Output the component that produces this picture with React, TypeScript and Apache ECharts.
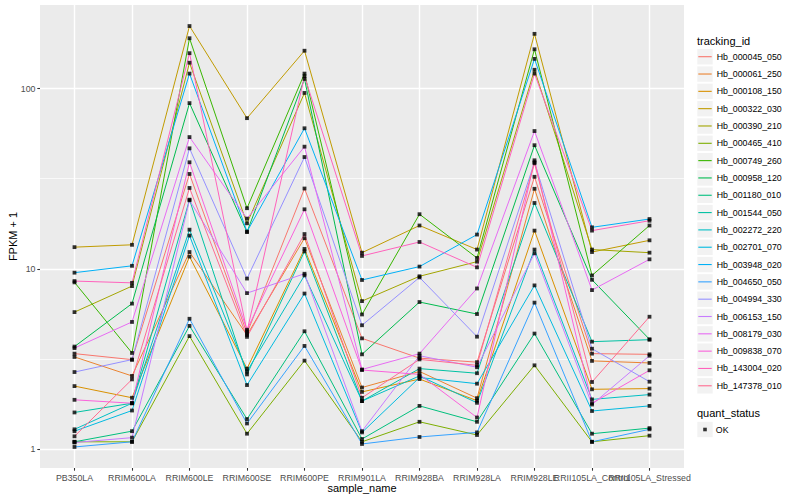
import React, { useEffect, useRef } from "react";
import * as echarts from "echarts";

const categories = [
  "PB350LA", "RRIM600LA", "RRIM600LE", "RRIM600SE", "RRIM600PE", "RRIM901LA",
  "RRIM928BA", "RRIM928LA", "RRIM928LE", "RRII105LA_Control", "RRII105LA_Stressed",
];

const trackingIds = [
  "Hb_000045_050", "Hb_000061_250", "Hb_000108_150", "Hb_000322_030", "Hb_000390_210",
  "Hb_000465_410", "Hb_000749_260", "Hb_000958_120", "Hb_001180_010", "Hb_001544_050",
  "Hb_002272_220", "Hb_002701_070", "Hb_003948_020", "Hb_004650_050", "Hb_004994_330",
  "Hb_006153_150", "Hb_008179_030", "Hb_009838_070", "Hb_143004_020", "Hb_147378_010",
];

const palette = [
  "#F8766D", "#EA8331", "#D89000", "#C09B00", "#A3A500", "#7CAE00", "#39B600", "#00BB4E",
  "#00BF7D", "#00C1A3", "#00BFC4", "#00BAE0", "#00B0F6", "#35A2FF", "#9590FF", "#C77CFF",
  "#E76BF3", "#FA62DB", "#FF62BC", "#FF6C91",
];

// FPKM + 1 per sample, in category order
const hb000045_050 = [3.39, 3.14, 33.6, 4.4, 27.9, 4.12, 3.2, 3.04, 32.4, 3.39, 3.36];
const hb000061_250 = [3.25, 2.55, 12.4, 4.3, 14.8, 2.2, 2.7, 1.92, 27.8, 3.09, 3.01];
const hb000108_150 = [2.24, 1.93, 11.7, 2.8, 12.9, 2.08, 2.45, 1.86, 16.3, 2.15, 2.17];
const hb000322_030 = [13.2, 13.6, 222, 68.5, 162, 12.3, 17.4, 12.8, 201, 12.4, 14.4];
const hb000390_210 = [5.76, 8.03, 139, 17.9, 94.5, 6.63, 9.1, 10.97, 127, 12.8, 12.3];
const hb000465_410 = [1.1, 1.1, 4.24, 1.22, 3.1, 1.1, 1.42, 1.2, 2.92, 1.1, 1.19];
const hb000749_260 = [8.42, 3.42, 190, 21.7, 121, 5.59, 20.1, 11.5, 165, 9.2, 17.4];
const hb000958_120 = [3.71, 6.42, 83, 16.0, 113, 3.36, 6.55, 5.62, 48.5, 8.7, 4.07];
const hb001180_010 = [1.1, 1.26, 4.83, 1.47, 4.51, 1.14, 1.74, 1.42, 4.38, 1.22, 1.31];
const hb001544_050 = [1.6, 1.8, 24.2, 2.6, 12.5, 1.85, 2.8, 2.64, 23.2, 3.95, 4.05];
const hb002272_220 = [1.29, 1.8, 16.5, 2.7, 9.2, 1.85, 2.55, 1.81, 12.8, 1.89, 2.01];
const hb002701_070 = [1.26, 1.64, 15.3, 2.27, 7.3, 1.24, 2.5, 2.31, 8.1, 1.63, 1.74];
const hb003948_020 = [9.53, 10.4, 121, 16.1, 60.2, 8.68, 10.3, 15.5, 146, 17.0, 18.9];
const hb004650_050 = [1.03, 1.1, 5.29, 1.39, 3.74, 1.07, 1.17, 1.24, 6.5, 1.1, 1.29];
const hb004994_330 = [2.68, 3.14, 46.6, 8.84, 41.7, 4.87, 8.97, 4.21, 39.0, 3.61, 2.37];
const hb006153_150 = [1.09, 1.16, 24.0, 7.34, 9.4, 1.26, 3.3, 2.85, 12.2, 1.77, 3.3];
const hb008179_030 = [3.64, 5.08, 53.8, 19.0, 47.6, 2.77, 3.39, 7.79, 58.1, 7.63, 11.3];
const hb009838_070 = [1.88, 1.8, 39.0, 4.6, 21.4, 2.75, 2.6, 1.5, 40.0, 1.8, 2.74];
const hb143004_020 = [8.56, 8.37, 157, 4.5, 117, 11.8, 14.1, 10.2, 121, 16.3, 18.5];
const hb147378_010 = [1.18, 2.44, 28.1, 4.2, 15.6, 1.93, 3.15, 2.92, 38.5, 2.36, 5.43];

const seriesValues = [
  hb000045_050, hb000061_250, hb000108_150, hb000322_030, hb000390_210,
  hb000465_410, hb000749_260, hb000958_120, hb001180_010, hb001544_050,
  hb002272_220, hb002701_070, hb003948_020, hb004650_050, hb004994_330,
  hb006153_150, hb008179_030, hb009838_070, hb143004_020, hb147378_010,
];

const yMajor = [1, 10, 100];
const quantStatus = ["OK"];

const FONT = "'Liberation Sans', Arial, Helvetica, sans-serif";

export default function App() {
  const ref = useRef<HTMLDivElement>(null);

  useEffect(() => {
    if (!ref.current) return;
    const chart = echarts.init(ref.current, undefined, { renderer: "svg" });

    const all = seriesValues.flat();
    const lo = Math.log10(Math.min(...all));
    const hi = Math.log10(Math.max(...all));
    const pad = (hi - lo) * 0.05;
    const yMin = Math.pow(10, lo - pad);
    const yMax = Math.pow(10, hi + pad);
    const yMinor = [Math.pow(10, 0.5), Math.pow(10, 1.5), Math.pow(10, 2.5)].filter(
      (v) => v > yMin && v < yMax
    );
    const xIdx = categories.map((_, i) => i);
    const xEven = xIdx.filter((i) => i % 2 === 0);
    const xOdd = xIdx.filter((i) => i % 2 === 1);

    const legendTop = 48.04;
    const pitch = 17.32;

    const keyRects = trackingIds.map((_, i) => ({
      type: "rect",
      z: 1,
      shape: { x: 697.3, y: legendTop + i * pitch + 1, width: 15.4, height: 15.4 },
      style: { fill: "#F2F2F2" },
    }));

    const lineSeries = trackingIds.map((id, k) => ({
      type: "line",
      name: id,
      color: palette[k],
      data: seriesValues[k].map((v, i) => [i, v]),
      showSymbol: false,
      symbol: "none",
      lineStyle: { width: 1, color: palette[k] },
      z: 2,
    }));

    const pointSeries = {
      type: "scatter",
      name: quantStatus[0],
      color: "#000000",
      symbol: "rect",
      symbolSize: 3.8,
      itemStyle: { color: "#000000" },
      data: seriesValues.flatMap((vals) => vals.map((v, i) => [i, v])),
      z: 3,
    };

    const labelStyle = {
      fontSize: 8.8,
      color: "#4D4D4D",
      margin: 5,
      hideOverlap: false,
      fontFamily: FONT,
      formatter: (v: number) => categories[Math.round(v)] ?? "",
    };

    chart.setOption({
      animation: false,
      textStyle: { fontFamily: FONT },
      grid: {
        left: 40,
        right: 116,
        top: 5,
        bottom: 32,
        show: true,
        backgroundColor: "#EBEBEB",
        borderWidth: 0,
        containLabel: false,
        outerBoundsMode: "none",
      },
      xAxis: [
        {
          type: "value",
          position: "bottom",
          min: -0.6,
          max: 10.6,
          name: "sample_name",
          nameLocation: "middle",
          nameGap: 14,
          nameMoveOverlap: false,
          nameTextStyle: { fontSize: 11, color: "#000000", fontFamily: FONT },
          axisLine: { show: false, onZero: false },
          axisTick: {
            show: true,
            length: 2.7,
            customValues: xIdx,
            lineStyle: { color: "#333333", width: 1.07 },
          },
          axisLabel: { ...labelStyle, customValues: xEven },
          splitLine: { show: true, lineStyle: { color: "#FFFFFF", width: 1.4 } },
        },
        {
          type: "value",
          position: "bottom",
          min: -0.6,
          max: 10.6,
          axisLine: { show: false, onZero: false },
          axisTick: { show: false },
          axisLabel: { ...labelStyle, customValues: xOdd },
          splitLine: { show: false },
        },
      ],
      yAxis: [
        {
          type: "log",
          position: "left",
          min: yMin,
          max: yMax,
          name: "FPKM + 1",
          nameLocation: "middle",
          nameRotate: 90,
          nameGap: 22,
          nameMoveOverlap: false,
          nameTextStyle: { fontSize: 11, color: "#000000", fontFamily: FONT },
          axisLine: { show: false, onZero: false },
          axisTick: {
            show: true,
            length: 2.7,
            customValues: yMajor,
            lineStyle: { color: "#333333", width: 1.07 },
          },
          axisLabel: {
            customValues: yMajor,
            formatter: (v: number) => String(+Number(v).toPrecision(3)),
            fontSize: 8.8,
            color: "#4D4D4D",
            margin: 4.5,
            fontFamily: FONT,
          },
          splitLine: { show: true, lineStyle: { color: "#FFFFFF", width: 1.4 } },
          z: 1,
        },
        {
          type: "log",
          position: "left",
          min: yMin,
          max: yMax,
          axisLine: { show: false, onZero: false },
          axisTick: { show: false, customValues: yMinor },
          axisLabel: { show: false, customValues: yMinor },
          splitLine: { show: true, lineStyle: { color: "#FFFFFF", width: 0.7 } },
          z: 0,
        },
      ],
      legend: [
        {
          orient: "vertical",
          left: 698.3,
          top: legendTop,
          padding: 0,
          itemGap: 0,
          itemWidth: 13.4,
          itemHeight: 1.1,
          icon: "rect",
          selectedMode: false,
          data: trackingIds,
          textStyle: { fontSize: 8.8, color: "#000000", lineHeight: pitch, fontFamily: FONT },
          z: 5,
        },
        {
          orient: "vertical",
          left: 703.2,
          top: 429.5 - pitch / 2,
          padding: 0,
          itemGap: 0,
          itemWidth: 3.6,
          itemHeight: 3.6,
          icon: "rect",
          selectedMode: false,
          data: quantStatus,
          textStyle: {
            fontSize: 8.8,
            color: "#000000",
            lineHeight: pitch,
            padding: [0, 0, 0, 4],
            fontFamily: FONT,
          },
          z: 5,
        },
      ],
      graphic: [
        ...keyRects,
        {
          type: "rect",
          z: 1,
          shape: { x: 697.3, y: 429.5 - 7.7, width: 15.4, height: 15.4 },
          style: { fill: "#F2F2F2" },
        },
        {
          type: "text",
          z: 5,
          x: 697,
          y: 40.5,
          style: {
            text: "tracking_id",
            fontSize: 11,
            fill: "#000000",
            fontFamily: FONT,
            verticalAlign: "middle",
          },
        },
        {
          type: "text",
          z: 5,
          x: 697,
          y: 412.5,
          style: {
            text: "quant_status",
            fontSize: 11,
            fill: "#000000",
            fontFamily: FONT,
            verticalAlign: "middle",
          },
        },
      ],
      series: [...lineSeries, pointSeries],
    });

    return () => chart.dispose();
  }, []);

  return (
    <div
      ref={ref}
      style={{ position: "fixed", left: 0, top: 0, width: 800, height: 500, background: "#FFFFFF" }}
    />
  );
}
